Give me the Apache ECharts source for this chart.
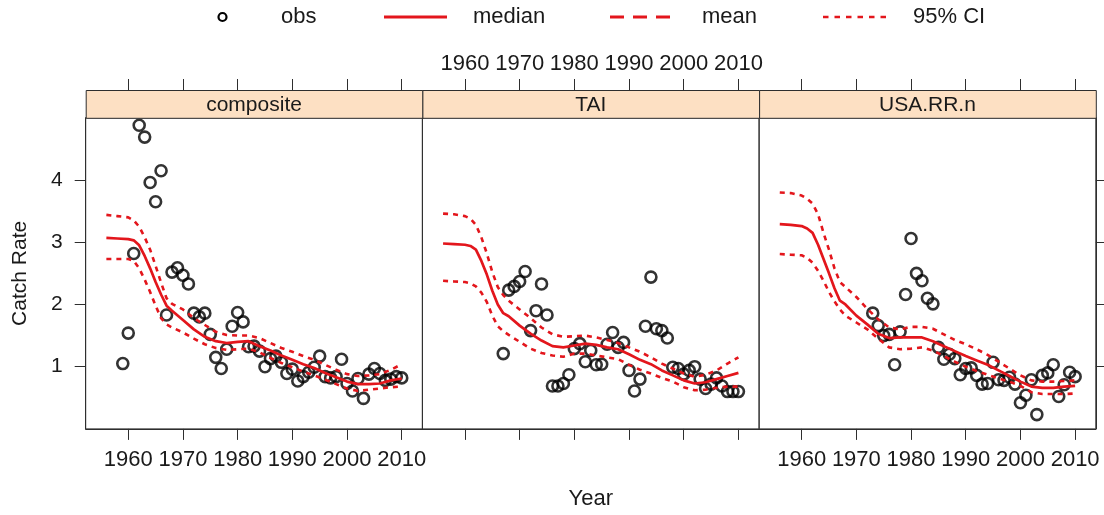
<!DOCTYPE html>
<html>
<head>
<meta charset="utf-8">
<script src="https://cdn.jsdelivr.net/npm/echarts@6/dist/echarts.min.js"></script>
<style>
  html, body { margin: 0; padding: 0; background: #ffffff; }
  #chart { width: 1104px; height: 515px; }
</style>
</head>
<body>
<div id="chart"></div>
<script>
// Panels (one per index series) and axis ticks
const panels = ['composite', 'TAI', 'USA.RR.n'];
const xTicks = [1960, 1970, 1980, 1990, 2000, 2010];
const yTicks = [1, 2, 3, 4];

// Observed catch rates, one value per consecutive year starting at obsFirstYear
const obsFirstYear = [1959, 1967, 1973];
const compositeObs = [1.05, 1.54, 2.82, 4.88, 4.69, 3.96, 3.65, 4.15, 1.83, 2.52,
  2.59, 2.47, 2.33, 1.86, 1.80, 1.86, 1.52, 1.15, 0.97, 1.28,
  1.65, 1.87, 1.72, 1.32, 1.33, 1.25, 1.00, 1.13, 1.17, 1.07,
  0.89, 0.96, 0.77, 0.84, 0.91, 0.99, 1.17, 0.84, 0.82, 0.84,
  1.12, 0.73, 0.61, 0.81, 0.49, 0.88, 0.97, 0.89, 0.78, 0.80,
  0.84, 0.82];
const taiObs = [1.21, 2.23, 2.29, 2.37, 2.53, 1.58, 1.90, 2.33, 1.83, 0.69,
  0.69, 0.73, 0.87, 1.29, 1.37, 1.08, 1.26, 1.03, 1.04, 1.36,
  1.55, 1.31, 1.39, 0.94, 0.61, 0.80, 1.65, 2.44, 1.61, 1.58,
  1.46, 0.99, 0.97, 0.88, 0.94, 1.00, 0.80, 0.65, 0.72, 0.82,
  0.69, 0.60, 0.60, 0.60];
const usaObs = [1.86, 1.66, 1.50, 1.52, 1.03, 1.56, 2.16, 3.06, 2.50, 2.38,
  2.10, 2.01, 1.31, 1.12, 1.20, 1.13, 0.87, 0.97, 0.98, 0.86,
  0.72, 0.73, 1.07, 0.79, 0.78, 0.83, 0.72, 0.42, 0.54, 0.79,
  0.23, 0.86, 0.90, 1.03, 0.52, 0.71, 0.91, 0.84];

// Fitted index: years at which the median and 95% CI are given
const lineYears = [1956, 1958, 1960, 1961, 1962, 1963, 1964, 1965, 1966, 1967,
  1968, 1970, 1972, 1974, 1976, 1978, 1980, 1982, 1984, 1986,
  1988, 1990, 1992, 1994, 1996, 1998, 2000, 2002, 2004, 2006,
  2008, 2010];

const compositeMedian = [3.07, 3.06, 3.05, 3.03, 2.95, 2.78, 2.58, 2.36, 2.16, 1.98,
  1.90, 1.75, 1.60, 1.48, 1.41, 1.38, 1.40, 1.41, 1.33, 1.26,
  1.18, 1.11, 1.04, 0.98, 0.90, 0.83, 0.76, 0.72, 0.72, 0.73,
  0.78, 0.81];
const compositeUpper = [3.44, 3.42, 3.40, 3.35, 3.25, 3.08, 2.88, 2.62, 2.35, 2.10,
  2.01, 1.92, 1.78, 1.67, 1.56, 1.51, 1.50, 1.50, 1.46, 1.38,
  1.30, 1.24, 1.17, 1.11, 1.03, 0.95, 0.88, 0.85, 0.86, 0.88,
  0.95, 1.04];
const compositeLower = [2.73, 2.73, 2.73, 2.70, 2.58, 2.40, 2.20, 1.98, 1.78, 1.68,
  1.63, 1.55, 1.45, 1.36, 1.30, 1.27, 1.28, 1.29, 1.23, 1.14,
  1.06, 0.99, 0.92, 0.86, 0.79, 0.72, 0.65, 0.61, 0.63, 0.65,
  0.67, 0.68];

const taiMedian = [2.98, 2.97, 2.96, 2.94, 2.88, 2.70, 2.48, 2.22, 2.00, 1.86,
  1.81, 1.66, 1.53, 1.42, 1.33, 1.31, 1.34, 1.37, 1.35, 1.31,
  1.28, 1.20, 1.11, 1.04, 0.94, 0.86, 0.78, 0.73, 0.75, 0.80,
  0.85, 0.90];
const taiUpper = [3.46, 3.45, 3.42, 3.38, 3.28, 3.08, 2.82, 2.52, 2.28, 2.15,
  2.06, 1.92, 1.78, 1.63, 1.52, 1.48, 1.49, 1.50, 1.47, 1.43,
  1.38, 1.31, 1.24, 1.15, 1.05, 0.97, 0.89, 0.84, 0.87, 0.94,
  1.05, 1.15];
const taiLower = [2.38, 2.37, 2.36, 2.34, 2.29, 2.19, 2.04, 1.82, 1.65, 1.57,
  1.51, 1.40, 1.29, 1.22, 1.18, 1.16, 1.21, 1.21, 1.18, 1.15,
  1.12, 1.03, 0.95, 0.89, 0.82, 0.76, 0.67, 0.62, 0.63, 0.66,
  0.68, 0.68];

const usaMedian = [3.29, 3.28, 3.26, 3.22, 3.15, 2.96, 2.73, 2.50, 2.26, 2.06,
  2.00, 1.82, 1.68, 1.53, 1.46, 1.47, 1.47, 1.47, 1.41, 1.33,
  1.25, 1.17, 1.10, 1.03, 0.94, 0.85, 0.76, 0.68, 0.66, 0.66,
  0.68, 0.69];
const usaUpper = [3.80, 3.79, 3.75, 3.70, 3.62, 3.45, 3.15, 2.88, 2.58, 2.36,
  2.28, 2.12, 1.93, 1.76, 1.63, 1.60, 1.64, 1.64, 1.61, 1.52,
  1.43, 1.36, 1.28, 1.19, 1.08, 0.97, 0.86, 0.78, 0.76, 0.76,
  0.77, 0.78];
const usaLower = [2.81, 2.80, 2.79, 2.75, 2.67, 2.54, 2.38, 2.20, 2.05, 1.92,
  1.82, 1.71, 1.60, 1.45, 1.31, 1.28, 1.29, 1.31, 1.26, 1.17,
  1.08, 1.00, 0.93, 0.87, 0.81, 0.76, 0.69, 0.59, 0.56, 0.56,
  0.56, 0.57];

// ---- styling & layout ----
const FONT = '"Liberation Sans", Arial, Helvetica, sans-serif';
const TXT = '#1a1a1a';
const AX = '#2e2e2e';
const RED = '#e3161c';
const STRIP_FILL = '#fde0c3';
const X_MIN = 1952.22, X_MAX = 2013.78, Y_MIN = 0, Y_MAX = 5;
const PANEL_LEFT = [85.7, 422.4, 759.1];
const PANEL_W = 336.7;
const PANEL_TOP = 117.8;
const PANEL_H = 311.1;
const STRIP_H = 27.8;

const obsSets = [compositeObs, taiObs, usaObs];
const medians = [compositeMedian, taiMedian, usaMedian];
const uppers = [compositeUpper, taiUpper, usaUpper];
const lowers = [compositeLower, taiLower, usaLower];

function toPairs(xs, ys) { return ys.map((v, i) => [xs[i], v]); }
function yearRun(start, n) { const out = []; for (let i = 0; i < n; i++) out.push(start + i); return out; }
const plain = v => String(v);

const grids = [], xAxes = [], yAxes = [], series = [], graphics = [];

panels.forEach((name, i) => {
  grids.push({
    left: PANEL_LEFT[i], top: PANEL_TOP, width: PANEL_W, height: PANEL_H,
    show: true, borderColor: AX, borderWidth: 1, backgroundColor: 'transparent'
  });

  const tickStyle = { show: true, inside: false, length: 11, customValues: xTicks, lineStyle: { color: AX, width: 1 } };
  const labelStyle = {
    customValues: xTicks, formatter: plain, hideOverlap: false, showMinLabel: true, showMaxLabel: true,
    fontSize: 22, color: TXT, fontFamily: FONT
  };

  // bottom axis (labels on outer panels)
  xAxes.push({
    type: 'value', gridIndex: i, position: 'bottom', min: X_MIN, max: X_MAX,
    axisLine: { show: true, onZero: false, lineStyle: { color: AX, width: 1 } },
    axisTick: tickStyle,
    axisLabel: Object.assign({ show: i !== 1, margin: 20 }, labelStyle),
    splitLine: { show: false },
    name: i === 1 ? 'Year' : '', nameLocation: 'middle', nameGap: 59,
    nameTextStyle: { fontSize: 22, color: TXT, fontFamily: FONT }
  });
  // top axis above the strip (labels on middle panel)
  xAxes.push({
    type: 'value', gridIndex: i, position: 'top', offset: STRIP_H, min: X_MIN, max: X_MAX,
    axisLine: { show: false, onZero: false },
    axisTick: tickStyle,
    axisLabel: Object.assign({ show: i === 1, margin: 15 }, labelStyle),
    splitLine: { show: false }
  });

  const yBase = {
    type: 'value', gridIndex: i, min: Y_MIN, max: Y_MAX,
    splitLine: { show: false },
    axisLine: { show: i !== 1, onZero: false, lineStyle: { color: AX, width: 1 } },
    axisTick: { show: i !== 1, inside: false, length: 11, customValues: yTicks, lineStyle: { color: AX, width: 1 } },
    axisLabel: { show: i === 0, customValues: yTicks, formatter: plain, margin: 23, fontSize: 21, color: TXT, fontFamily: FONT }
  };
  if (i === 0) {
    Object.assign(yBase, {
      position: 'left', name: 'Catch Rate', nameLocation: 'middle', nameGap: 55, nameRotate: 90,
      nameTextStyle: { fontSize: 21, color: TXT, fontFamily: FONT }
    });
  } else {
    yBase.position = 'right';
  }
  yAxes.push(yBase);

  // strip with the panel name
  graphics.push({
    type: 'rect', left: PANEL_LEFT[i], top: PANEL_TOP - STRIP_H,
    shape: { x: 0, y: 0, width: PANEL_W, height: STRIP_H },
    style: { fill: STRIP_FILL, stroke: AX, lineWidth: 1 }, z: 5
  });
  graphics.push({
    type: 'text', x: PANEL_LEFT[i] + PANEL_W / 2, y: PANEL_TOP - STRIP_H / 2 + 1,
    style: { text: name, fill: TXT, font: '21px ' + FONT, textAlign: 'center', textVerticalAlign: 'middle' }, z: 6
  });

  const xi = 2 * i;
  series.push({
    name: 'obs', type: 'scatter', xAxisIndex: xi, yAxisIndex: i,
    data: toPairs(yearRun(obsFirstYear[i], obsSets[i].length), obsSets[i]),
    symbol: 'circle', symbolSize: 11,
    itemStyle: { color: 'rgba(0,0,0,0)', borderColor: '#000', borderWidth: 2.6 },
    z: 2
  });
  series.push({
    name: 'median', type: 'line', xAxisIndex: xi, yAxisIndex: i,
    data: toPairs(lineYears, medians[i]), symbol: 'none', smooth: false,
    lineStyle: { color: RED, width: 2.7 }, z: 3
  });
  series.push({
    name: '95% CI', type: 'line', xAxisIndex: xi, yAxisIndex: i,
    data: toPairs(lineYears, uppers[i]), symbol: 'none', smooth: false,
    lineStyle: { color: RED, width: 2.6, type: [5, 5] }, z: 3
  });
  series.push({
    name: '95% CI', type: 'line', xAxisIndex: xi, yAxisIndex: i,
    data: toPairs(lineYears, lowers[i]), symbol: 'none', smooth: false,
    lineStyle: { color: RED, width: 2.6, type: [5, 5] }, z: 3
  });
});

// key along the top
const KEY_Y = 17;
const keyText = (x, t) => ({
  type: 'text', x: x, y: KEY_Y,
  style: { text: t, fill: TXT, font: '22px ' + FONT, textAlign: 'left', textVerticalAlign: 'middle' }
});
graphics.push(
  { type: 'circle', shape: { cx: 222.5, cy: KEY_Y, r: 4 }, style: { fill: 'none', stroke: '#000', lineWidth: 2.2 } },
  keyText(281, 'obs'),
  { type: 'line', shape: { x1: 384, y1: KEY_Y, x2: 447, y2: KEY_Y }, style: { stroke: RED, lineWidth: 3 } },
  keyText(473, 'median'),
  { type: 'line', shape: { x1: 610, y1: KEY_Y, x2: 670, y2: KEY_Y }, style: { stroke: RED, lineWidth: 3, lineDash: [14, 9] } },
  keyText(702, 'mean'),
  { type: 'line', shape: { x1: 823, y1: KEY_Y, x2: 886, y2: KEY_Y }, style: { stroke: RED, lineWidth: 2.6, lineDash: [5.5, 6] } },
  keyText(913, '95% CI')
);

const chart = echarts.init(document.getElementById('chart'), null, { renderer: 'canvas' });
chart.setOption({
  animation: false,
  backgroundColor: '#ffffff',
  textStyle: { fontFamily: FONT },
  grid: grids,
  xAxis: xAxes,
  yAxis: yAxes,
  series: series,
  graphic: graphics
});
</script>
</body>
</html>
